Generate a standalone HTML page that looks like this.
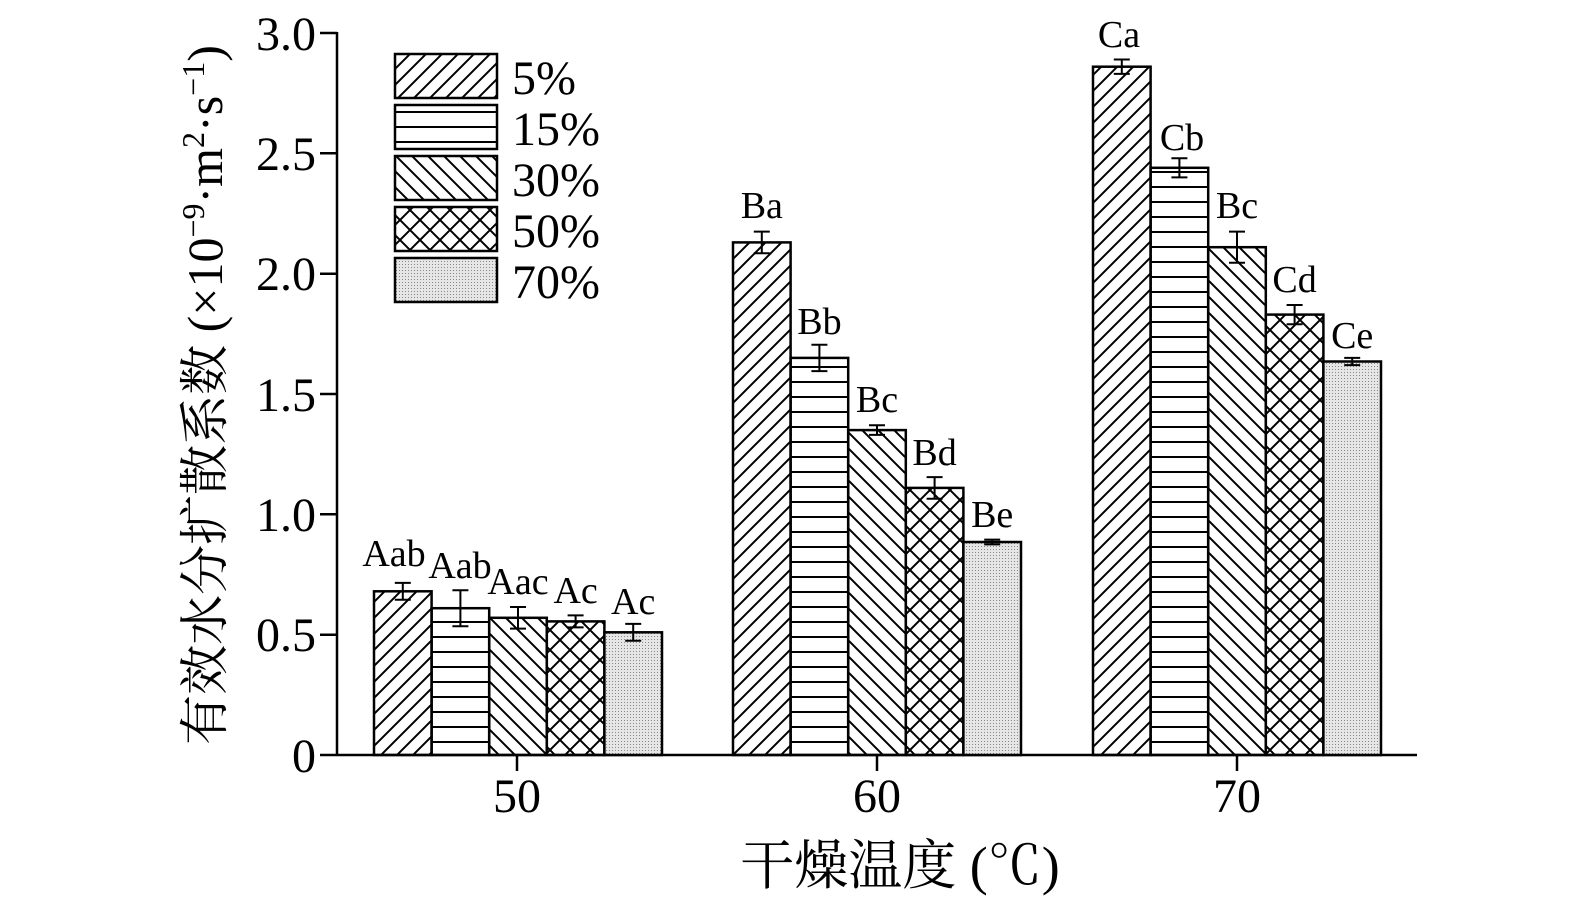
<!DOCTYPE html>
<html><head><meta charset="utf-8"><style>html,body{margin:0;padding:0;background:#fff;overflow:hidden;width:1575px;height:906px}svg{display:block}</style></head><body>
<svg width="1575" height="906" xmlns="http://www.w3.org/2000/svg" font-family="Liberation Serif, Noto Serif CJK SC, serif">
<defs>
<pattern id="p1" width="16" height="16" patternUnits="userSpaceOnUse"><path d="M-4,4 L4,-4 M0,16 L16,0 M12,20 L20,12" stroke="#000" stroke-width="2"/></pattern>
<pattern id="p2" width="16" height="15" patternUnits="userSpaceOnUse"><path d="M0,7 H16" stroke="#000" stroke-width="2"/></pattern>
<pattern id="p3" width="16" height="16" patternUnits="userSpaceOnUse"><path d="M-4,12 L4,20 M0,0 L16,16 M12,-4 L20,4" stroke="#000" stroke-width="2"/></pattern>
<pattern id="p4" width="20" height="20" patternUnits="userSpaceOnUse"><path d="M0,0 L20,20 M20,0 L0,20" stroke="#000" stroke-width="2"/></pattern>
<pattern id="p5" width="3" height="3" patternUnits="userSpaceOnUse"><rect width="3" height="3" fill="#e6e6e6"/><rect width="1" height="1" fill="#888"/></pattern>
</defs>
<g stroke="#000" stroke-width="2.5">
<line x1="337" y1="755" x2="1417" y2="755"/>
<line x1="337" y1="32" x2="337" y2="756"/>
<line x1="320" y1="755" x2="337" y2="755"/><line x1="320" y1="634.7" x2="337" y2="634.7"/><line x1="320" y1="514.3" x2="337" y2="514.3"/><line x1="320" y1="394" x2="337" y2="394"/><line x1="320" y1="273.7" x2="337" y2="273.7"/><line x1="320" y1="153.3" x2="337" y2="153.3"/><line x1="320" y1="33" x2="337" y2="33"/>
<line x1="517" y1="755" x2="517" y2="771"/><line x1="877" y1="755" x2="877" y2="771"/><line x1="1237" y1="755" x2="1237" y2="771"/>
</g>
<g font-size="48" text-anchor="end">
<text x="316" y="772">0</text><text x="316" y="651">0.5</text><text x="316" y="531">1.0</text><text x="316" y="411">1.5</text><text x="316" y="290">2.0</text><text x="316" y="170">2.5</text><text x="316" y="50">3.0</text>
</g>
<g font-size="48" text-anchor="middle"><text x="517" y="812">50</text><text x="877" y="812">60</text><text x="1237" y="812">70</text></g>
<text x="900" y="884" font-size="54" text-anchor="middle">干燥温度 (℃)</text>
<text transform="translate(222,395) rotate(-90)" font-size="50" text-anchor="middle">有效水分扩散系数 (×10<tspan dy="-18" font-size="32">−9</tspan><tspan dy="18">·m</tspan><tspan dy="-18" font-size="32">2</tspan><tspan dy="18">·s</tspan><tspan dy="-18" font-size="32">−1</tspan><tspan dy="18">)</tspan></text>
<g stroke="#000" stroke-width="2.5">
<rect x="374" y="591.3" width="57.6" height="163.7" fill="url(#p1)"/>
<rect x="431.6" y="608.2" width="57.6" height="146.8" fill="url(#p2)"/>
<rect x="489.2" y="617.8" width="57.6" height="137.2" fill="url(#p3)"/>
<rect x="546.8" y="621.4" width="57.6" height="133.6" fill="url(#p4)"/>
<rect x="604.4" y="632.3" width="57.6" height="122.7" fill="url(#p5)"/>
<rect x="733" y="242.4" width="57.6" height="512.6" fill="url(#p1)"/>
<rect x="790.6" y="357.9" width="57.6" height="397.1" fill="url(#p2)"/>
<rect x="848.2" y="430.1" width="57.6" height="324.9" fill="url(#p3)"/>
<rect x="905.8" y="487.9" width="57.6" height="267.1" fill="url(#p4)"/>
<rect x="963.4" y="542" width="57.6" height="213" fill="url(#p5)"/>
<rect x="1093" y="66.7" width="57.6" height="688.3" fill="url(#p1)"/>
<rect x="1150.6" y="167.8" width="57.6" height="587.2" fill="url(#p2)"/>
<rect x="1208.2" y="247.2" width="57.6" height="507.8" fill="url(#p3)"/>
<rect x="1265.8" y="314.6" width="57.6" height="440.4" fill="url(#p4)"/>
<rect x="1323.4" y="361.5" width="57.6" height="393.5" fill="url(#p5)"/>
</g>
<g stroke="#000" stroke-width="2" fill="none">
<path d="M402.8,582.9V599.7M394.8,582.9H410.8M394.8,599.7H410.8"/>
<path d="M460.4,590.2V626.2M452.4,590.2H468.4M452.4,626.2H468.4"/>
<path d="M518,607V628.6M510,607H526M510,628.6H526"/>
<path d="M575.6,615.4V627.4M567.6,615.4H583.6M567.6,627.4H583.6"/>
<path d="M633.2,623.9V640.7M625.2,623.9H641.2M625.2,640.7H641.2"/>
<path d="M761.8,231.6V253.2M753.8,231.6H769.8M753.8,253.2H769.8"/>
<path d="M819.4,344.7V371.1M811.4,344.7H827.4M811.4,371.1H827.4"/>
<path d="M877,425.3V434.9M869,425.3H885M869,434.9H885"/>
<path d="M934.6,477.1V498.7M926.6,477.1H942.6M926.6,498.7H942.6"/>
<path d="M992.2,539.6V544.4M984.2,539.6H1000.2M984.2,544.4H1000.2"/>
<path d="M1121.8,59.5V73.9M1113.8,59.5H1129.8M1113.8,73.9H1129.8"/>
<path d="M1179.4,158.2V177.4M1171.4,158.2H1187.4M1171.4,177.4H1187.4"/>
<path d="M1237,231.6V262.8M1229,231.6H1245M1229,262.8H1245"/>
<path d="M1294.6,305V324.2M1286.6,305H1302.6M1286.6,324.2H1302.6"/>
<path d="M1352.2,357.9V365.1M1344.2,357.9H1360.2M1344.2,365.1H1360.2"/>
</g>
<g font-size="38" text-anchor="middle">
<text x="394" y="566">Aab</text><text x="460" y="578">Aab</text><text x="518" y="594">Aac</text><text x="575.6" y="603">Ac</text><text x="633.2" y="614">Ac</text>
<text x="761.8" y="218">Ba</text><text x="819.4" y="334">Bb</text><text x="877" y="412">Bc</text><text x="934.6" y="465">Bd</text><text x="992.2" y="527">Be</text>
<text x="1119" y="47">Ca</text><text x="1182" y="150">Cb</text><text x="1237" y="218">Bc</text><text x="1294.6" y="292">Cd</text><text x="1352.2" y="348">Ce</text>
</g>
<g stroke="#000" stroke-width="2.5">
<rect x="395" y="54" width="102" height="44" fill="url(#p1)"/>
<rect x="395" y="105" width="102" height="44" fill="url(#p2)"/>
<rect x="395" y="156" width="102" height="44" fill="url(#p3)"/>
<rect x="395" y="207" width="102" height="44" fill="url(#p4)"/>
<rect x="395" y="258" width="102" height="44" fill="url(#p5)"/>
</g>
<g font-size="48"><text x="512" y="94">5%</text><text x="512" y="145">15%</text><text x="512" y="196">30%</text><text x="512" y="247">50%</text><text x="512" y="298">70%</text></g>
</svg>
</body></html>
